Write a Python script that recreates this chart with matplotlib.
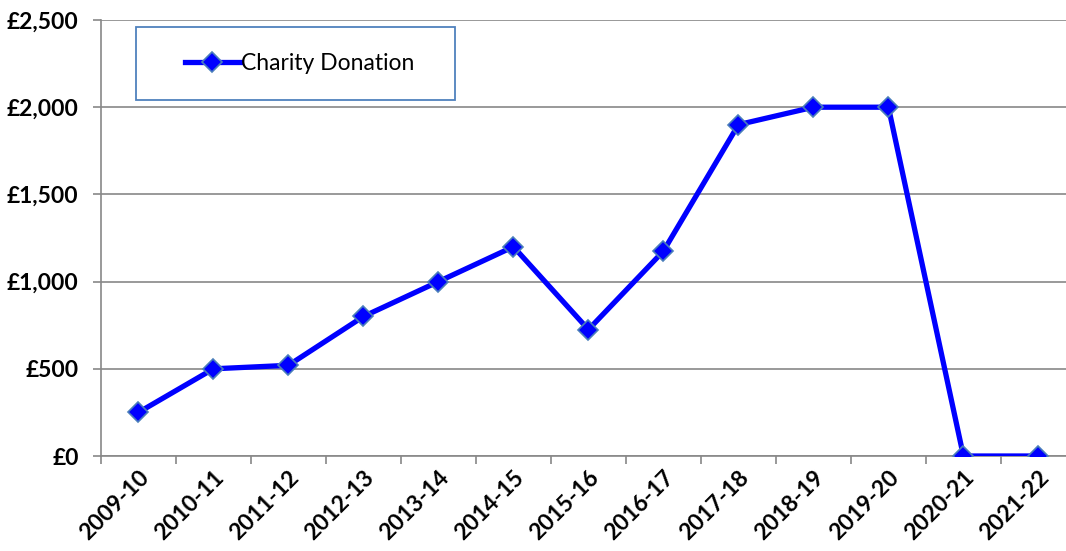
import numpy as np
import matplotlib.pyplot as plt
from matplotlib.ticker import FuncFormatter
from matplotlib.patches import Rectangle

# data
years = ['2009-10', '2010-11', '2011-12', '2012-13', '2013-14', '2014-15', '2015-16',
         '2016-17', '2017-18', '2018-19', '2019-20', '2020-21', '2021-22']
donation = [250, 500, 520, 800, 1000, 1200, 725, 1175, 1900, 2000, 2000, 0, 0]

plt.rcParams['font.family'] = ['Lato', 'DejaVu Sans']

fig = plt.figure(figsize=(10.66, 5.51), dpi=100)
ax = fig.add_axes([0.0947, 0.1724, 0.9146, 0.7913])

x = np.arange(len(years))
ax.plot(x, donation, color='#0000FF', lw=3.8, marker='D', markersize=10,
        markerfacecolor='#0000FF', markeredgecolor='#4A7EBB', markeredgewidth=1.2,
        label='Charity Donation', zorder=3)

ax.set_xlim(-0.5, len(years) - 0.5)
ax.set_ylim(0, 2500)
ax.set_yticks(np.arange(0, 2501, 500))
ax.yaxis.set_major_formatter(FuncFormatter(lambda v, p: '£{:,.0f}'.format(v)))

ax.set_xticks(np.arange(-0.5, len(years) - 0.4, 1))
ax.set_xticklabels([])
ax.set_xticks(x, minor=True)
ax.set_xticklabels(years, minor=True, rotation=45, ha='right', rotation_mode='anchor',
                   fontsize=16.5, fontweight='bold')
ax.tick_params(axis='x', which='minor', length=0, pad=8)
ax.tick_params(axis='x', which='major', length=6, color='#888888', width=1.2)
ax.tick_params(axis='y', length=6, color='#888888', width=1.2, labelsize=16.5, pad=10)
for t in ax.get_yticklabels():
    t.set_fontweight('bold')

ax.grid(axis='y', color='#888888', lw=1.2)
ax.set_axisbelow(True)
for s in ['top', 'right']:
    ax.spines[s].set_visible(False)
for s in ['left', 'bottom']:
    ax.spines[s].set_color('#888888')
    ax.spines[s].set_linewidth(1.2)

# legend box drawn separately so the padding can match
ax.add_patch(Rectangle((0.0359, 0.8165), 0.3272, 0.1674, transform=ax.transAxes,
                       facecolor='white', edgecolor='#4F81BD', lw=1.3, zorder=4))
leg = ax.legend(loc='center left', bbox_to_anchor=(0.0862, 0.901), frameon=False,
                fontsize=16.5, borderpad=0, handlelength=2.4, handletextpad=0.05,
                borderaxespad=0)
leg.set_zorder(5)

fig.savefig('out.png', dpi=100)
